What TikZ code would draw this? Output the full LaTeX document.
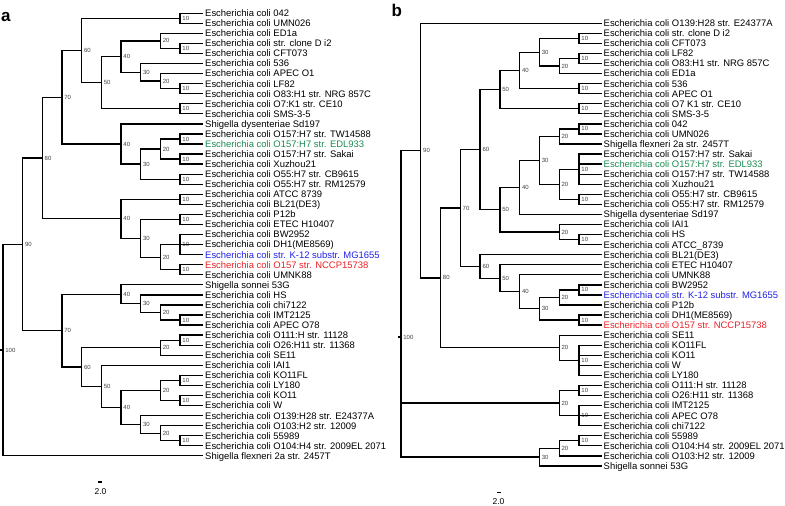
\documentclass[tikz,border=0pt]{standalone}
\usepackage{fontspec}
\setmainfont{Liberation Sans}
\usepackage{tikz}
\usetikzlibrary{calc}

\definecolor{edlgreen}{RGB}{28,140,82}
\definecolor{mgblue}{RGB}{32,32,232}
\definecolor{nccpred}{RGB}{236,32,36}

% clade: tree, name, level, first child, last child
\newcommand{\clade}[5]{%
  \path let \p1=($(#4)!0.5!(#5)$) in ({x#1(#3)*1bp},\y1) coordinate (#2);
  \draw[branch] (#4) -| (#2) |- (#5);
  \node[boot] at (#2) {#3};
}

\begin{document}
\begin{tikzpicture}[x=1bp, y=-1bp,
  declare function={xa(\l)=3+(100-\l)*1.967; xb(\l)=401+(100-\l)*1.978;},
  branch/.style={line width=1.3bp},
  leaf/.style={anchor=west, inner xsep=2bp, inner ysep=0pt, text height=6.8bp, text depth=0pt, font=\fontsize{9.45bp}{10bp}\selectfont},
  boot/.style={anchor=west, xshift=1.8bp, inner sep=0.4bp, text=black!75, font=\fontsize{6bp}{6bp}\selectfont},
  panel/.style={anchor=base west, inner sep=0pt, font=\fontsize{17bp}{17bp}\selectfont\bfseries},
  scalelabel/.style={inner sep=0pt, font=\fontsize{8.5bp}{8.5bp}\selectfont}
]
\useasboundingbox (0,0) rectangle (785,506);

\node[panel] (panela) at (1,21.5) {a};
\node[panel] (panelb) at (391.5,16.5) {b};

% tree a
\foreach \c/\t [count=\i] in {
  black/Escherichia coli 042,
  black/Escherichia coli UMN026,
  black/Escherichia coli ED1a,
  black/Escherichia coli str. clone D i2,
  black/Escherichia coli CFT073,
  black/Escherichia coli 536,
  black/Escherichia coli APEC O1,
  black/Escherichia coli LF82,
  black/Escherichia coli O83:H1 str. NRG 857C,
  black/Escherichia coli O7:K1 str. CE10,
  black/Escherichia coli SMS-3-5,
  black/Shigella dysenteriae Sd197,
  black/Escherichia coli O157:H7 str. TW14588,
  edlgreen/Escherichia coli O157:H7 str. EDL933,
  black/Escherichia coli O157:H7 str. Sakai,
  black/Escherichia coli Xuzhou21,
  black/Escherichia coli O55:H7 str. CB9615,
  black/Escherichia coli O55:H7 str. RM12579,
  black/Escherichia coli ATCC 8739,
  black/Escherichia coli BL21(DE3),
  black/Escherichia coli P12b,
  black/Escherichia coli ETEC H10407,
  black/Escherichia coli BW2952,
  black/Escherichia coli DH1(ME8569),
  mgblue/Escherichia coli str. K-12 substr. MG1655,
  nccpred/Escherichia coli O157 str. NCCP15738,
  black/Escherichia coli UMNK88,
  black/Shigella sonnei 53G,
  black/Escherichia coli HS,
  black/Escherichia coli chi7122,
  black/Escherichia coli IMT2125,
  black/Escherichia coli APEC O78,
  black/Escherichia coli O111:H str. 11128,
  black/Escherichia coli O26:H11 str. 11368,
  black/Escherichia coli SE11,
  black/Escherichia coli IAI1,
  black/Escherichia coli KO11FL,
  black/Escherichia coli LY180,
  black/Escherichia coli KO11,
  black/Escherichia coli W,
  black/Escherichia coli O139:H28 str. E24377A,
  black/Escherichia coli O103:H2 str. 12009,
  black/Escherichia coli 55989,
  black/Escherichia coli O104:H4 str. 2009EL 2071,
  black/Shigella flexneri 2a str. 2457T}
  \node[leaf, text=\c] (la\i) at (203,{13.2+10.06*(\i-1)}) {\t};

\clade{a}{a1to2}{10}{la1}{la2}
\clade{a}{a4to5}{10}{la4}{la5}
\clade{a}{a8to9}{10}{la8}{la9}
\clade{a}{a10to11}{10}{la10}{la11}
\clade{a}{a13to14}{10}{la13}{la14}
\clade{a}{a15to16}{10}{la15}{la16}
\clade{a}{a17to18}{10}{la17}{la18}
\clade{a}{a19to20}{10}{la19}{la20}
\clade{a}{a21to22}{10}{la21}{la22}
\clade{a}{a23to25}{10}{la23}{la25}
\draw[branch] (a23to25) |- (la24);
\clade{a}{a26to27}{10}{la26}{la27}
\clade{a}{a31to32}{10}{la31}{la32}
\clade{a}{a33to34}{10}{la33}{la34}
\clade{a}{a37to38}{10}{la37}{la38}
\clade{a}{a39to40}{10}{la39}{la40}
\clade{a}{a43to44}{10}{la43}{la44}
\clade{a}{a3to5}{20}{la3}{a4to5}
\clade{a}{a7to9}{20}{la7}{a8to9}
\clade{a}{a13to16}{20}{a13to14}{a15to16}
\clade{a}{a23to27}{20}{a23to25}{a26to27}
\clade{a}{a30to32}{20}{la30}{a31to32}
\clade{a}{a33to35}{20}{a33to34}{la35}
\clade{a}{a37to40}{20}{a37to38}{a39to40}
\clade{a}{a42to44}{20}{la42}{a43to44}
\clade{a}{a6to9}{30}{la6}{a7to9}
\clade{a}{a13to18}{30}{a13to16}{a17to18}
\clade{a}{a21to27}{30}{a21to22}{a23to27}
\clade{a}{a29to32}{30}{la29}{a30to32}
\clade{a}{a41to44}{30}{la41}{a42to44}
\clade{a}{a3to9}{40}{a3to5}{a6to9}
\clade{a}{a12to18}{40}{la12}{a13to18}
\clade{a}{a19to27}{40}{a19to20}{a21to27}
\clade{a}{a28to32}{40}{la28}{a29to32}
\clade{a}{a37to44}{40}{a37to40}{a41to44}
\clade{a}{a3to11}{50}{a3to9}{a10to11}
\clade{a}{a36to44}{50}{la36}{a37to44}
\clade{a}{a1to11}{60}{a1to2}{a3to11}
\clade{a}{a33to44}{60}{a33to35}{a36to44}
\clade{a}{a1to18}{70}{a1to11}{a12to18}
\clade{a}{a28to44}{70}{a28to32}{a33to44}
\clade{a}{a1to27}{80}{a1to18}{a19to27}
\clade{a}{a1to44}{90}{a1to27}{a28to44}
\clade{a}{aroot}{100}{a1to44}{la45}
\draw[branch] (aroot) -- ++(-3,0);

% tree b
\foreach \c/\t [count=\i] in {
  black/Escherichia coli O139:H28 str. E24377A,
  black/Escherichia coli str. clone D i2,
  black/Escherichia coli CFT073,
  black/Escherichia coli LF82,
  black/Escherichia coli O83:H1 str. NRG 857C,
  black/Escherichia coli ED1a,
  black/Escherichia coli 536,
  black/Escherichia coli APEC O1,
  black/Escherichia coli O7 K1 str. CE10,
  black/Escherichia coli SMS-3-5,
  black/Escherichia coli 042,
  black/Escherichia coli UMN026,
  black/Shigella flexneri 2a str. 2457T,
  black/Escherichia coli O157:H7 str. Sakai,
  edlgreen/Escherichia coli O157:H7 str. EDL933,
  black/Escherichia coli O157:H7 str. TW14588,
  black/Escherichia coli Xuzhou21,
  black/Escherichia coli O55:H7 str. CB9615,
  black/Escherichia coli O55:H7 str. RM12579,
  black/Shigella dysenteriae Sd197,
  black/Escherichia coli IAI1,
  black/Escherichia coli HS,
  black/Escherichia coli ATCC\_8739,
  black/Escherichia coli BL21(DE3),
  black/Escherichia coli ETEC H10407,
  black/Escherichia coli UMNK88,
  black/Escherichia coli BW2952,
  mgblue/Escherichia coli str. K-12 substr. MG1655,
  black/Escherichia coli P12b,
  black/Escherichia coli DH1(ME8569),
  nccpred/Escherichia coli O157 str. NCCP15738,
  black/Escherichia coli SE11,
  black/Escherichia coli KO11FL,
  black/Escherichia coli KO11,
  black/Escherichia coli W,
  black/Escherichia coli LY180,
  black/Escherichia coli O111:H str. 11128,
  black/Escherichia coli O26:H11 str. 11368,
  black/Escherichia coli IMT2125,
  black/Escherichia coli APEC O78,
  black/Escherichia coli chi7122,
  black/Escherichia coli 55989,
  black/Escherichia coli O104:H4 str. 2009EL 2071,
  black/Escherichia coli O103:H2 str. 12009,
  black/Shigella sonnei 53G}
  \node[leaf, text=\c] (lb\i) at (601.5,{23.3+10.06*(\i-1)}) {\t};

\clade{b}{b2to3}{10}{lb2}{lb3}
\clade{b}{b4to5}{10}{lb4}{lb5}
\clade{b}{b7to8}{10}{lb7}{lb8}
\clade{b}{b9to10}{10}{lb9}{lb10}
\clade{b}{b11to12}{10}{lb11}{lb12}
\clade{b}{b14to17}{10}{lb14}{lb17}
\draw[branch] (b14to17) |- (lb15);
\draw[branch] (b14to17) |- (lb16);
\clade{b}{b18to19}{10}{lb18}{lb19}
\clade{b}{b22to23}{10}{lb22}{lb23}
\clade{b}{b27to28}{10}{lb27}{lb28}
\clade{b}{b30to31}{10}{lb30}{lb31}
\clade{b}{b33to36}{10}{lb33}{lb36}
\draw[branch] (b33to36) |- (lb34);
\draw[branch] (b33to36) |- (lb35);
\clade{b}{b37to38}{10}{lb37}{lb38}
\clade{b}{b39to41}{10}{lb39}{lb41}
\draw[branch] (b39to41) |- (lb40);
\clade{b}{b42to43}{10}{lb42}{lb43}
\clade{b}{b4to6}{20}{b4to5}{lb6}
\clade{b}{b11to13}{20}{b11to12}{lb13}
\clade{b}{b14to19}{20}{b14to17}{b18to19}
\clade{b}{b21to23}{20}{lb21}{b22to23}
\clade{b}{b27to29}{20}{b27to28}{lb29}
\clade{b}{b32to36}{20}{lb32}{b33to36}
\clade{b}{b37to41}{20}{b37to38}{b39to41}
\clade{b}{b42to44}{20}{b42to43}{lb44}
\clade{b}{b2to6}{30}{b2to3}{b4to6}
\clade{b}{b11to19}{30}{b11to13}{b14to19}
\clade{b}{b27to31}{30}{b27to29}{b30to31}
\clade{b}{b42to45}{30}{b42to44}{lb45}
\clade{b}{b2to8}{40}{b2to6}{b7to8}
\clade{b}{b11to20}{40}{b11to19}{lb20}
\clade{b}{b26to31}{40}{lb26}{b27to31}
\clade{b}{b2to10}{50}{b2to8}{b9to10}
\clade{b}{b11to23}{50}{b11to20}{b21to23}
\clade{b}{b25to31}{50}{lb25}{b26to31}
\clade{b}{b2to23}{60}{b2to10}{b11to23}
\clade{b}{b24to31}{60}{lb24}{b25to31}
\clade{b}{b2to31}{70}{b2to23}{b24to31}
\clade{b}{b2to36}{80}{b2to31}{b32to36}
\clade{b}{b1to36}{90}{lb1}{b2to36}
% root with three children
\path let \p1=(b1to36), \p2=(b37to41), \p3=(b42to45) in ({xb(100)*1bp},{(\y1+\y2+\y3)/3}) coordinate (broot);
\draw[branch] (b1to36) -| (broot) |- (b42to45);
\draw[branch] (broot) |- (b37to41);
\draw[branch] (broot) -- ++(-3,0);
\node[boot] at (broot) {100};

% scale bars
\draw[branch] (98,482) -- (102,482);
\node[scalelabel] (scalea) at (100.5,491.7) {2.0};
\draw[branch] (496.5,492.3) -- (500.5,492.3);
\node[scalelabel] (scaleb) at (498.5,501.7) {2.0};
\end{tikzpicture}
\end{document}
